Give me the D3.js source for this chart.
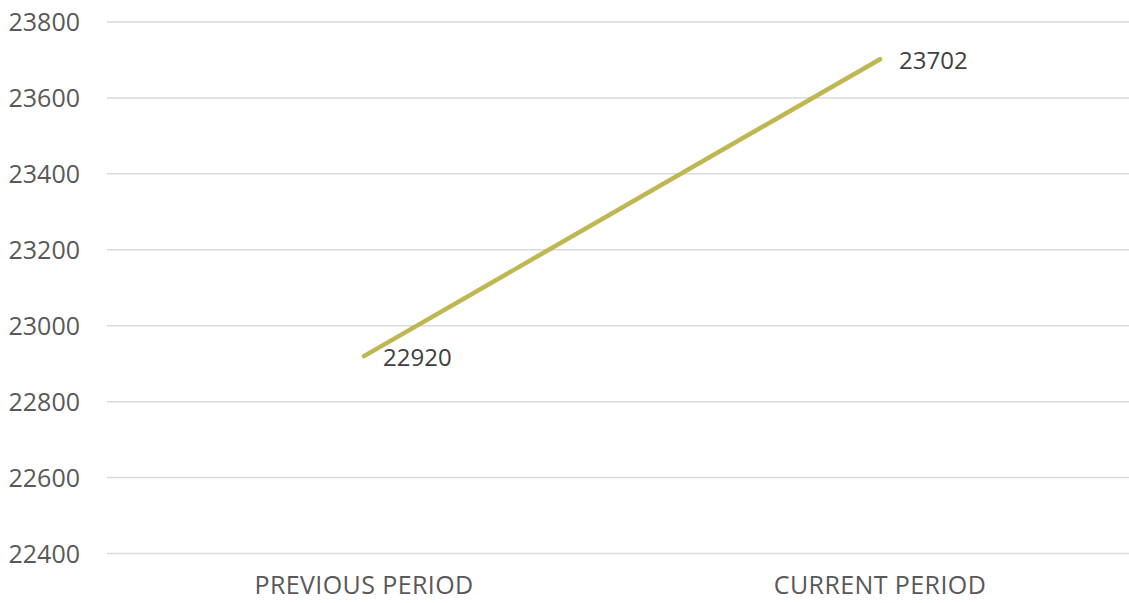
<!DOCTYPE html>
<html><head><meta charset="utf-8">
<script src="https://cdn.jsdelivr.net/npm/d3@7"></script>
<style>body{margin:0;background:#fff}svg{display:block}</style>
</head><body>
<script>
const categories = ["PREVIOUS PERIOD", "CURRENT PERIOD"];
const values = [22920, 23702];
const yTicks = [22400, 22600, 22800, 23000, 23200, 23400, 23600, 23800];

const W = 1129, H = 603;
const font = "'Open Sans', 'Noto Sans', sans-serif";
const svg = d3.select("body").append("svg").attr("width", W).attr("height", H);

const x = d3.scalePoint().domain(categories).range([364, 880]);
const y = d3.scaleLinear().domain([22400, 23800]).range([553.5, 22]);

const grid = svg.append("g");
grid.selectAll("line").data(yTicks).join("line")
  .attr("x1", 107).attr("x2", W)
  .attr("y1", d => y(d)).attr("y2", d => y(d))
  .attr("stroke", "#d9d9d9").attr("stroke-width", 1.5);

svg.append("g").selectAll("text").data(yTicks).join("text")
  .attr("x", 80).attr("y", d => y(d)).attr("dy", "0.36em")
  .attr("text-anchor", "end")
  .attr("font-family", font).attr("font-size", 25).attr("fill", "#595959")
  .text(d => d);

svg.append("g").selectAll("text").data(categories).join("text")
  .attr("x", d => x(d)).attr("y", 585).attr("dy", "0.36em")
  .attr("text-anchor", "middle")
  .attr("font-family", font).attr("font-size", 25).attr("letter-spacing", 0.4)
  .attr("fill", "#595959")
  .text(d => d);

const pts = categories.map((c, i) => ({c, v: values[i]}));
svg.append("path").datum(pts)
  .attr("d", d3.line().x(d => x(d.c)).y(d => y(d.v)))
  .attr("fill", "none").attr("stroke", "#BFB752").attr("stroke-width", 4.5)
  .attr("stroke-linecap", "round");

svg.append("g").selectAll("text").data(pts).join("text")
  .attr("x", d => x(d.c) + 19).attr("y", d => y(d.v) + 1).attr("dy", "0.36em")
  .attr("font-family", font).attr("font-size", 24).attr("fill", "#404040")
  .text(d => d.v);
</script>
</body></html>
